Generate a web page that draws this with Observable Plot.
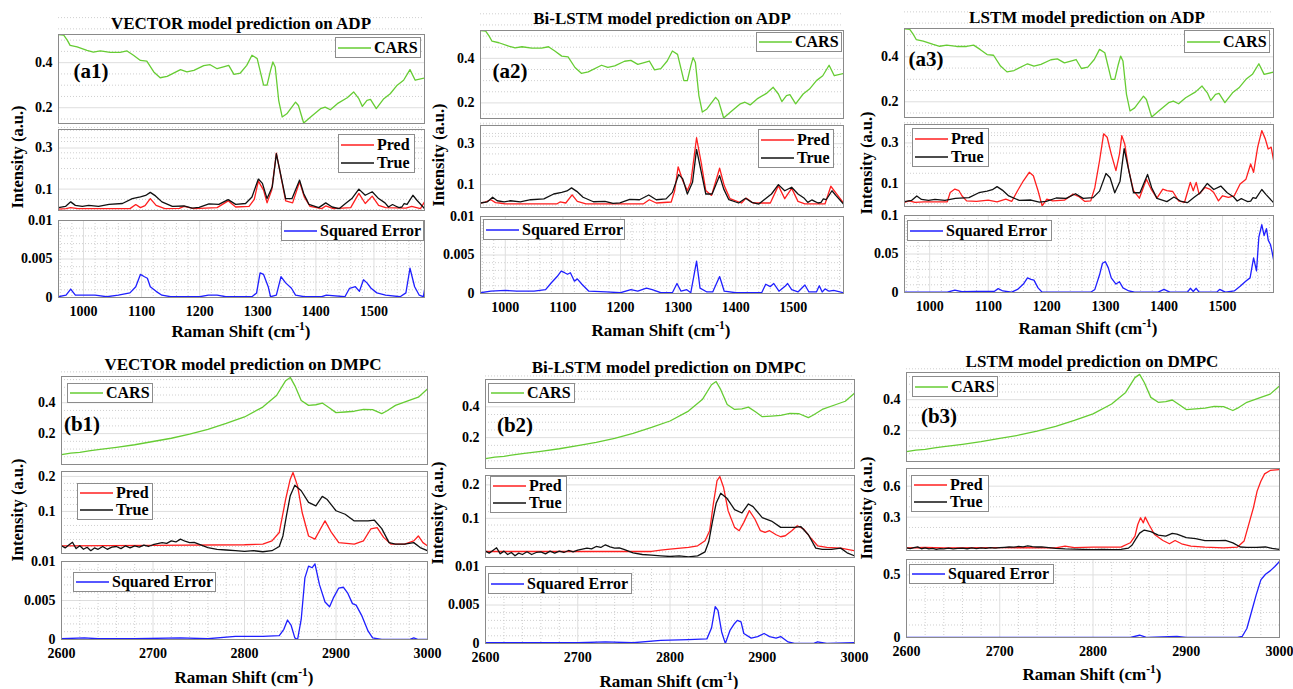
<!DOCTYPE html>
<html><head><meta charset="utf-8">
<script src="https://cdn.jsdelivr.net/npm/d3@7"></script>
<script src="https://cdn.jsdelivr.net/npm/@observablehq/plot@0.6"></script>
<style>
body{margin:0;background:#fff;}
#root{position:relative;width:1293px;height:689px;overflow:hidden;font-family:"Liberation Serif","Times New Roman",serif;font-weight:bold;color:#000;background:#fff;}
.txt{position:absolute;white-space:nowrap;line-height:1;font-weight:bold;}
.txt sup{font-size:0.68em;vertical-align:0.55em;line-height:0;}
.legend{position:absolute;box-sizing:border-box;border:1px solid #8c8c8c;background:#fff;display:flex;flex-direction:column;justify-content:center;padding:0 2px;font-size:16px;line-height:1;white-space:nowrap;overflow:visible;}
.lrow{display:flex;align-items:center;height:18px;white-space:nowrap;}
.lrow svg{flex:none;margin-right:3px;display:block;}
</style></head>
<body><div id="root"></div>
<script>
// ---------------- data ----------------
const adpTicks = [1000, 1100, 1200, 1300, 1400, 1500];
const dmpcTicks = [2600, 2700, 2800, 2900, 3000];
const topTicks = [0.2, 0.4];
const adpMidTicks = [0.1, 0.3];
const errTicksSmall = [0, 0.005, 0.01];
const a3ErrTicks = [0, 0.05, 0.1];
const dmpcMidTicks = [0.1, 0.2];
const b3MidTicks = [0.3, 0.6];
const b3ErrTicks = [0, 0.5];

const adpCars = [[957,0.524],[966,0.522],[972,0.500],[977,0.477],[989,0.470],[1006,0.455],[1017,0.447],[1029,0.452],[1046,0.446],[1063,0.446],[1075,0.452],[1086,0.433],[1098,0.410],[1109,0.407],[1121,0.359],[1132,0.333],[1144,0.339],[1167,0.369],[1178,0.359],[1190,0.366],[1207,0.387],[1218,0.391],[1230,0.373],[1241,0.381],[1250,0.388],[1259,0.348],[1270,0.354],[1281,0.388],[1290,0.433],[1299,0.418],[1310,0.300],[1316,0.300],[1322,0.366],[1326,0.403],[1330,0.381],[1336,0.233],[1342,0.159],[1350,0.173],[1365,0.225],[1370,0.210],[1379,0.132],[1391,0.159],[1408,0.196],[1416,0.203],[1425,0.191],[1437,0.218],[1454,0.244],[1465,0.270],[1474,0.240],[1480,0.206],[1488,0.233],[1494,0.237],[1504,0.196],[1517,0.240],[1528,0.262],[1540,0.300],[1551,0.322],[1562,0.369],[1571,0.322],[1587,0.332]];

const adpTrue = [[957,0.010],[969,0.016],[978,0.038],[986,0.021],[998,0.016],[1009,0.021],[1026,0.016],[1044,0.026],[1067,0.030],[1084,0.054],[1098,0.062],[1107,0.069],[1115,0.084],[1124,0.067],[1135,0.038],[1153,0.016],[1173,0.018],[1187,0.008],[1199,0.011],[1216,0.028],[1233,0.026],[1249,0.049],[1262,0.026],[1279,0.030],[1290,0.062],[1301,0.149],[1308,0.128],[1316,0.054],[1325,0.111],[1332,0.272],[1339,0.177],[1348,0.054],[1359,0.054],[1372,0.144],[1379,0.079],[1388,0.026],[1405,0.010],[1417,0.033],[1428,0.013],[1440,0.005],[1451,0.030],[1462,0.054],[1474,0.100],[1485,0.070],[1497,0.087],[1508,0.054],[1519,0.033],[1525,0.013],[1532,0.025],[1537,0.018],[1543,0.010],[1548,0.013],[1552,0.030],[1557,0.026],[1567,0.070],[1574,0.046],[1587,0.005]];

const a1Pred = [[957,0.003],[970,0.005],[978,0.010],[990,0.005],[1080,0.005],[1090,0.025],[1098,0.010],[1106,0.020],[1115,0.054],[1125,0.021],[1140,0.005],[1165,0.006],[1173,0.016],[1190,0.005],[1230,0.010],[1249,0.043],[1262,0.013],[1285,0.016],[1294,0.050],[1301,0.139],[1310,0.095],[1316,0.033],[1324,0.095],[1332,0.275],[1340,0.160],[1348,0.043],[1360,0.033],[1372,0.136],[1380,0.062],[1390,0.016],[1410,0.005],[1417,0.018],[1430,0.005],[1460,0.010],[1474,0.079],[1485,0.030],[1497,0.066],[1508,0.021],[1520,0.010],[1555,0.008],[1565,0.016],[1580,0.005],[1587,0.038]];

const a1Err = [[957,0.0001],[970,0.0003],[978,0.0011],[986,0.0003],[1000,0.0003],[1020,0.0003],[1040,0.0001],[1060,0.0003],[1080,0.0006],[1090,0.0014],[1098,0.0030],[1105,0.0027],[1110,0.0025],[1115,0.0014],[1125,0.0008],[1135,0.0003],[1150,0.0001],[1200,0.0001],[1215,0.0003],[1230,0.0003],[1245,0.0001],[1290,0.0001],[1298,0.0006],[1304,0.0032],[1310,0.0030],[1318,0.0014],[1322,0.0001],[1332,0.0003],[1340,0.0027],[1348,0.0019],[1358,0.0012],[1365,0.0003],[1380,0.0001],[1410,0.0001],[1418,0.0003],[1450,0.0001],[1458,0.0012],[1468,0.0014],[1475,0.0008],[1482,0.0023],[1488,0.0019],[1495,0.0012],[1505,0.0006],[1520,0.0003],[1545,0.0001],[1555,0.0006],[1562,0.0038],[1570,0.0014],[1578,0.0003],[1585,0.0001],[1587,0.0010]];

const a2Pred = [[957,0.010],[965,0.014],[975,0.026],[983,0.012],[990,0.010],[1000,0.006],[1090,0.006],[1095,0.015],[1105,0.010],[1116,0.050],[1125,0.018],[1140,0.006],[1240,0.006],[1250,0.026],[1262,0.010],[1288,0.015],[1294,0.070],[1300,0.187],[1308,0.119],[1316,0.071],[1322,0.111],[1332,0.329],[1340,0.208],[1348,0.071],[1358,0.047],[1372,0.180],[1380,0.095],[1390,0.031],[1410,0.010],[1418,0.034],[1430,0.010],[1460,0.010],[1474,0.095],[1485,0.031],[1497,0.082],[1508,0.018],[1520,0.006],[1555,0.006],[1565,0.092],[1575,0.055],[1587,0.010]];

const a2Err = [[957,0.0001],[975,0.0003],[1000,0.0004],[1020,0.0003],[1050,0.0003],[1070,0.0005],[1080,0.0014],[1090,0.0022],[1097,0.0029],[1103,0.0027],[1108,0.0025],[1113,0.0027],[1120,0.0016],[1125,0.0019],[1133,0.0012],[1145,0.0003],[1175,0.0002],[1200,0.0001],[1218,0.0005],[1230,0.0003],[1245,0.0007],[1255,0.0005],[1270,0.0001],[1290,0.0001],[1298,0.0013],[1305,0.0003],[1315,0.0005],[1322,0.0001],[1332,0.0042],[1338,0.0007],[1350,0.0002],[1360,0.0002],[1372,0.0022],[1380,0.0003],[1400,0.0001],[1445,0.0001],[1452,0.0012],[1460,0.0009],[1466,0.0013],[1475,0.0003],[1485,0.0009],[1490,0.0013],[1497,0.0005],[1508,0.0002],[1520,0.0011],[1527,0.0002],[1540,0.0002],[1545,0.0010],[1550,0.0002],[1555,0.0006],[1562,0.0003],[1570,0.0004],[1587,0.0001]];

const a3Pred = [[957,0.006],[965,0.014],[975,0.006],[990,0.009],[1030,0.009],[1035,0.055],[1043,0.072],[1050,0.064],[1055,0.039],[1063,0.014],[1080,0.011],[1100,0.017],[1115,0.009],[1130,0.022],[1140,0.011],[1150,0.064],[1160,0.113],[1170,0.155],[1177,0.138],[1185,0.064],[1192,-0.011],[1200,0.022],[1210,0.014],[1230,0.017],[1245,0.047],[1255,0.034],[1265,0.011],[1275,0.014],[1282,0.080],[1290,0.212],[1297,0.345],[1303,0.328],[1310,0.245],[1318,0.163],[1324,0.245],[1328,0.336],[1333,0.295],[1340,0.163],[1348,0.064],[1358,0.027],[1370,0.121],[1378,0.072],[1388,0.027],[1398,0.072],[1405,0.064],[1415,0.060],[1425,0.014],[1435,0.006],[1445,0.105],[1450,0.064],[1455,0.105],[1460,0.047],[1470,0.080],[1478,0.072],[1485,0.055],[1493,0.014],[1500,0.039],[1510,0.031],[1520,0.039],[1530,0.097],[1540,0.121],[1548,0.196],[1553,0.155],[1560,0.279],[1567,0.361],[1573,0.320],[1578,0.270],[1583,0.279],[1587,0.216]];

const a3Err = [[957,0.0004],[1030,0.0004],[1043,0.003],[1055,0.001],[1080,0.0013],[1110,0.0013],[1117,0.005],[1125,0.002],[1140,0.0004],[1150,0.004],[1160,0.011],[1167,0.019],[1173,0.017],[1178,0.016],[1185,0.006],[1192,0.0004],[1275,0.0004],[1282,0.004],[1290,0.023],[1295,0.038],[1300,0.040],[1305,0.032],[1310,0.019],[1318,0.011],[1324,0.014],[1330,0.006],[1340,0.002],[1350,0.0004],[1390,0.0004],[1400,0.004],[1410,0.0004],[1440,0.0004],[1445,0.0055],[1450,0.0013],[1455,0.0055],[1460,0.0004],[1490,0.0004],[1495,0.004],[1505,0.0004],[1520,0.002],[1530,0.008],[1540,0.015],[1547,0.019],[1553,0.045],[1558,0.028],[1562,0.072],[1567,0.088],[1571,0.074],[1575,0.083],[1578,0.068],[1582,0.062],[1585,0.051],[1587,0.043]];

const dmpcCars = [[2600,0.064],[2610,0.074],[2620,0.079],[2630,0.088],[2640,0.096],[2660,0.111],[2680,0.128],[2700,0.149],[2720,0.170],[2740,0.196],[2760,0.228],[2780,0.266],[2800,0.308],[2820,0.372],[2835,0.447],[2845,0.543],[2850,0.564],[2855,0.511],[2862,0.415],[2870,0.383],[2878,0.387],[2885,0.398],[2893,0.366],[2900,0.336],[2910,0.340],[2920,0.345],[2930,0.357],[2940,0.355],[2950,0.330],[2955,0.345],[2965,0.383],[2980,0.415],[2990,0.436],[3000,0.489]];

const dmpcTrue = [[2600,0.002],[2604,-0.004],[2608,0.004],[2612,0.012],[2616,-0.006],[2620,0.002],[2624,-0.008],[2628,-0.002],[2632,-0.012],[2636,-0.004],[2640,-0.008],[2645,0.000],[2650,-0.008],[2655,-0.002],[2660,0.000],[2665,-0.006],[2670,0.002],[2675,-0.004],[2680,0.002],[2685,-0.002],[2690,0.004],[2695,0.000],[2700,0.005],[2705,0.008],[2710,0.011],[2715,0.009],[2720,0.016],[2725,0.013],[2730,0.021],[2735,0.015],[2740,0.011],[2745,0.012],[2750,0.007],[2755,0.002],[2760,-0.003],[2770,-0.008],[2780,-0.010],[2790,-0.012],[2800,-0.014],[2810,-0.012],[2820,-0.015],[2830,-0.012],[2838,0.000],[2842,0.030],[2846,0.090],[2850,0.145],[2855,0.175],[2862,0.159],[2870,0.126],[2878,0.116],[2885,0.143],[2890,0.135],[2900,0.102],[2910,0.092],[2920,0.073],[2935,0.073],[2942,0.075],[2950,0.051],[2958,0.011],[2965,0.007],[2975,0.007],[2985,0.011],[2992,-0.003],[3000,-0.012]];

const b1Pred = [[2600,0.002],[2700,0.003],[2800,0.005],[2820,0.007],[2830,0.016],[2838,0.040],[2845,0.135],[2850,0.192],[2853,0.211],[2858,0.173],[2863,0.097],[2870,0.030],[2877,0.021],[2883,0.050],[2888,0.073],[2895,0.040],[2903,0.011],[2920,0.007],[2930,0.016],[2938,0.050],[2945,0.054],[2952,0.026],[2960,0.007],[2975,0.007],[2985,0.016],[2990,0.030],[2995,0.011],[3000,0.002]];

const b1Err = [[2600,0.0001],[2625,0.0002],[2640,0.0001],[2680,0.0001],[2730,0.0002],[2760,0.0001],[2790,0.0004],[2820,0.0004],[2838,0.0005],[2843,0.0013],[2847,0.0025],[2851,0.0018],[2855,0.0002],[2858,0.0],[2862,0.0026],[2866,0.0079],[2870,0.0094],[2874,0.0092],[2877,0.0097],[2882,0.0070],[2888,0.0048],[2893,0.0042],[2897,0.0053],[2903,0.0066],[2908,0.0067],[2913,0.0059],[2918,0.0046],[2922,0.0044],[2928,0.0031],[2935,0.0011],[2940,0.0002],[2950,0.0],[2980,0.0],[2985,0.0002],[2990,0.0],[3000,0.0]];

const b2Pred = [[2600,0.001],[2780,0.001],[2790,0.005],[2800,0.008],[2820,0.013],[2830,0.018],[2838,0.033],[2843,0.063],[2847,0.143],[2851,0.213],[2854,0.225],[2858,0.193],[2863,0.123],[2870,0.073],[2875,0.063],[2880,0.088],[2886,0.123],[2892,0.098],[2898,0.063],[2903,0.058],[2908,0.063],[2915,0.051],[2920,0.045],[2925,0.048],[2932,0.063],[2938,0.078],[2945,0.068],[2952,0.043],[2960,0.018],[2970,0.013],[2985,0.011],[3000,0.003]];

const b2Err = [[2600,0.0001],[2700,0.0001],[2730,0.0002],[2760,0.0001],[2790,0.0004],[2820,0.0005],[2840,0.0006],[2845,0.0020],[2849,0.0048],[2852,0.0043],[2856,0.0015],[2860,0.0],[2865,0.0017],[2870,0.0026],[2873,0.0030],[2877,0.0028],[2880,0.0013],[2888,0.0007],[2895,0.0009],[2902,0.0013],[2908,0.0009],[2915,0.0007],[2920,0.0009],[2928,0.0002],[2935,0.0],[2955,0.0],[2960,0.0002],[2970,0.0],[3000,0.0001]];

const b3Pred = [[2600,0.003],[2620,0.006],[2640,0.002],[2700,0.004],[2760,0.003],[2770,0.019],[2780,0.004],[2800,0.010],[2830,0.010],[2840,0.052],[2845,0.116],[2848,0.229],[2851,0.294],[2854,0.245],[2856,0.300],[2860,0.229],[2866,0.132],[2875,0.074],[2882,0.042],[2888,0.074],[2895,0.042],[2905,0.019],[2920,0.010],[2940,0.003],[2955,0.010],[2962,0.068],[2968,0.261],[2972,0.390],[2976,0.552],[2980,0.648],[2984,0.719],[2990,0.752],[3000,0.761]];

const b3Err = [[2600,0.0],[2840,0.0],[2850,0.018],[2858,0.0],[2890,0.008],[2900,0.0],[2955,0.0],[2960,0.008],[2965,0.072],[2970,0.206],[2975,0.340],[2980,0.460],[2985,0.505],[2990,0.532],[2995,0.567],[3000,0.607]];

// ---------------- styling ----------------
const GREEN = "#66cc33", RED = "#ff1f1f", BLACK = "#111111", BLUE = "#1f1fff";
const root = document.getElementById("root");
const FONT = '"Liberation Serif","Times New Roman",serif';

function addText(html, cx, cy, size, rotate) {
  const d = document.createElement("div");
  d.className = "txt";
  d.innerHTML = html;
  d.style.left = cx + "px";
  d.style.top = cy + "px";
  d.style.fontSize = size + "px";
  d.style.transform = "translate(-50%,-50%)" + (rotate ? " rotate(" + rotate + "deg)" : "");
  root.appendChild(d);
}

function addLegend(x0, y0, x1, y1, items) {
  const d = document.createElement("div");
  d.className = "legend";
  Object.assign(d.style, {left: x0 + "px", top: y0 + "px", width: (x1 - x0) + "px", height: (y1 - y0) + "px"});
  for (const [label, color] of items) {
    const row = document.createElement("div");
    row.className = "lrow";
    row.innerHTML = '<svg width="33" height="4"><line x1="0" x2="33" y1="2" y2="2" stroke="' + color + '" stroke-width="1.6"></line></svg><span>' + label + '</span>';
    d.appendChild(row);
  }
  root.appendChild(d);
}

function range(a, b, s) { return d3.range(0, Math.round((b - a) / s) + 1).map(i => +(a + i * s).toFixed(6)); }

function subplot(c) {
  const mL = 48, mR = 4, mT = 4, mB = c.bottom ? 30 : 4;
  const majY = new Set(c.yMajor.map(String));
  const minorY = range(c.yMinor[0], c.yMinor[1], c.yMinor[2]).filter(v => !majY.has(String(v)));
  const marks = [
    Plot.gridY(minorY, {stroke: "#c9c9c9", strokeOpacity: 1, strokeDasharray: "1,2", strokeWidth: 0.9}),
    Plot.gridY(c.yMajor, {stroke: "#dedede", strokeOpacity: 1, strokeWidth: 1})
  ];
  if (c.bottom) {
    const majX = new Set(c.xMajor.map(String));
    const minorX = range(c.xDomain[0] - ((c.xDomain[0] % 20) + 20) % 20 + 20, c.xDomain[1], 20).filter(v => v <= c.xDomain[1] && !majX.has(String(v)));
    marks.push(Plot.gridX(minorX, {stroke: "#c9c9c9", strokeOpacity: 1, strokeDasharray: "1,2", strokeWidth: 0.9}));
    marks.push(Plot.gridX(c.xMajor, {stroke: "#dedede", strokeOpacity: 1, strokeWidth: 1}));
  }
  for (const s of c.series) {
    marks.push(Plot.line(s.data, {x: d => d[0], y: d => d[1], stroke: s.color, strokeWidth: 1.3, clip: true}));
  }
  marks.push(Plot.frame({stroke: "#8a8a8a", strokeWidth: 1}));
  marks.push(Plot.axisY(c.yMajor, {tickSize: 0, tickPadding: 6, label: null, tickFormat: d => String(d)}));
  if (c.bottom) marks.push(Plot.axisX(c.xMajor, {tickSize: 0, tickPadding: 9, label: null, tickFormat: d => String(d)}));
  const svg = Plot.plot({
    width: c.R - c.L + mL + mR,
    height: c.B - c.T + mT + mB,
    marginLeft: mL, marginRight: mR, marginTop: mT, marginBottom: mB,
    x: c.bottom ? {domain: c.xDomain} : {domain: c.xDomain, axis: null},
    y: {domain: c.yDomain},
    style: {fontFamily: FONT, fontWeight: "bold", fontSize: "14px", color: "#000", background: "transparent", overflow: "visible"},
    marks
  });
  svg.style.position = "absolute";
  svg.style.left = (c.L - mL) + "px";
  svg.style.top = (c.T - mT) + "px";
  root.appendChild(svg);
}

// ---------------- panels ----------------
const ADP = [957, 1587], DMPC = [2600, 3000];
const panels = [
  {title: "VECTOR model prediction on ADP", tag: "(a1)", L: 58, R: 424, top: [34, 123], mid: [129, 210], bot: [220, 297],
   xDomain: ADP, xMajor: adpTicks, cars: adpCars, truth: adpTrue, pred: a1Pred, err: a1Err,
   topDom: [0.13, 0.525], midDom: [-0.004, 0.39], midTicks: adpMidTicks, midMinor: [0, 0.4, 0.05],
   errDom: [0, 0.01], errTicks: errTicksSmall, errMinor: [0, 0.01, 0.001],
   titleC: [241, 23], tagPos: [91, 71], xlab: [241, 331], ylab: [18, 157],
   lgCars: [335, 37, 421, 58], lgPT: [338, 134, 415, 173], lgErr: [281, 220, 424, 241]},
  {title: "Bi-LSTM model prediction on ADP", tag: "(a2)", L: 480, R: 843, top: [30, 118], mid: [125, 207], bot: [216, 293],
   xDomain: ADP, xMajor: adpTicks, cars: adpCars, truth: adpTrue, pred: a2Pred, err: a2Err,
   topDom: [0.13, 0.525], midDom: [-0.012, 0.389], midTicks: adpMidTicks, midMinor: [0, 0.4, 0.05],
   errDom: [0, 0.01], errTicks: errTicksSmall, errMinor: [0, 0.01, 0.001],
   titleC: [662, 18], tagPos: [510, 71], xlab: [661, 330], ylab: [439, 155],
   lgCars: [756, 32, 842, 52], lgPT: [758, 129, 834, 168], lgErr: [483, 219, 625, 240]},
  {title: "LSTM model prediction on ADP", tag: "(a3)", L: 904, R: 1273, top: [28, 117], mid: [124, 206], bot: [215, 292],
   xDomain: ADP, xMajor: adpTicks, cars: adpCars, truth: adpTrue, pred: a3Pred, err: a3Err,
   topDom: [0.13, 0.526], midDom: [-0.014, 0.391], midTicks: adpMidTicks, midMinor: [0, 0.4, 0.05],
   errDom: [0, 0.1], errTicks: a3ErrTicks, errMinor: [0, 0.1, 0.01],
   titleC: [1087, 17], tagPos: [926, 59], xlab: [1088, 328], ylab: [867, 163],
   lgCars: [1184, 30, 1270, 53], lgPT: [912, 128, 989, 167], lgErr: [907, 220, 1052, 241]},
  {title: "VECTOR model prediction on DMPC", tag: "(b1)", L: 61, R: 427, top: [376, 464], mid: [471, 553], bot: [561, 639],
   xDomain: DMPC, xMajor: dmpcTicks, cars: dmpcCars, truth: dmpcTrue, pred: b1Pred, err: b1Err,
   topDom: [0, 0.57], midDom: [-0.02, 0.214], midTicks: dmpcMidTicks, midMinor: [-0.02, 0.2, 0.02],
   errDom: [0, 0.01], errTicks: errTicksSmall, errMinor: [0, 0.01, 0.001],
   titleC: [243, 364], tagPos: [82, 424], xlab: [244, 677], ylab: [18, 510],
   lgCars: [67, 383, 153, 403], lgPT: [77, 483, 153, 520], lgErr: [73, 572, 216, 592]},
  {title: "Bi-LSTM model prediction on DMPC", tag: "(b2)", L: 485, R: 854, top: [379, 468], mid: [475, 557], bot: [566, 643],
   xDomain: DMPC, xMajor: dmpcTicks, cars: dmpcCars, truth: dmpcTrue, pred: b2Pred, err: b2Err,
   topDom: [0, 0.577], midDom: [-0.017, 0.228], midTicks: dmpcMidTicks, midMinor: [-0.0, 0.22, 0.02],
   errDom: [0, 0.01], errTicks: errTicksSmall, errMinor: [0, 0.01, 0.001],
   titleC: [669, 367], tagPos: [515, 425], xlab: [669, 681], ylab: [438, 513],
   lgCars: [488, 383, 575, 403], lgPT: [490, 476, 567, 513], lgErr: [488, 573, 632, 594]},
  {title: "LSTM model prediction on DMPC", tag: "(b3)", L: 906, R: 1279, top: [372, 461], mid: [468, 550], bot: [559, 637],
   xDomain: DMPC, xMajor: dmpcTicks, cars: dmpcCars, truth: dmpcTrue, pred: b3Pred, err: b3Err,
   topDom: [0, 0.576], midDom: [-0.023, 0.771], midTicks: b3MidTicks, midMinor: [0, 0.7, 0.1],
   errDom: [0, 0.623], errTicks: b3ErrTicks, errMinor: [0, 0.6, 0.1],
   titleC: [1092, 361], tagPos: [939, 416], xlab: [1092, 674], ylab: [867, 508],
   lgCars: [912, 376, 998, 397], lgPT: [911, 475, 989, 512], lgErr: [909, 564, 1054, 584]}
];

for (const p of panels) {
  subplot({L: p.L, R: p.R, T: p.top[0], B: p.top[1], xDomain: p.xDomain, yDomain: p.topDom,
    yMajor: topTicks, yMinor: [0, 0.6, 0.05], series: [{data: p.cars, color: GREEN}]});
  subplot({L: p.L, R: p.R, T: p.mid[0], B: p.mid[1], xDomain: p.xDomain, yDomain: p.midDom,
    yMajor: p.midTicks, yMinor: p.midMinor, series: [{data: p.pred, color: RED}, {data: p.truth, color: BLACK}]});
  subplot({L: p.L, R: p.R, T: p.bot[0], B: p.bot[1], xDomain: p.xDomain, yDomain: p.errDom,
    yMajor: p.errTicks, yMinor: p.errMinor, xMajor: p.xMajor, bottom: true, series: [{data: p.err, color: BLUE}]});
  addText(p.title, p.titleC[0], p.titleC[1], 17);
  addText(p.tag, p.tagPos[0], p.tagPos[1], 21);
  addText("Raman Shift (cm<sup>-1</sup>)", p.xlab[0], p.xlab[1], 17);
  addText("Intensity (a.u.)", p.ylab[0], p.ylab[1], 16.5, -90);
  addLegend(...p.lgCars, [["CARS", GREEN]]);
  addLegend(...p.lgPT, [["Pred", RED], ["True", BLACK]]);
  addLegend(...p.lgErr, [["Squared Error", BLUE]]);
}
</script></body></html>
